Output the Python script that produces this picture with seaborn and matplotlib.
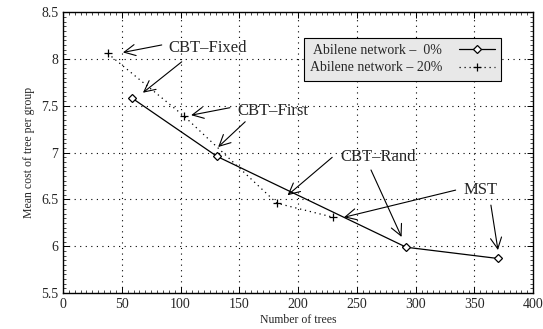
import pandas as pd
import matplotlib
matplotlib.use("Agg")
import matplotlib.pyplot as plt
import seaborn as sns
from matplotlib.ticker import MultipleLocator

# data
trees_0 = [59, 131, 292, 370]
cost_0 = [7.58, 6.96, 5.99, 5.87]
trees_20 = [38, 103, 182, 230]
cost_20 = [8.06, 7.39, 6.46, 6.31]

df = pd.concat([
    pd.DataFrame({"trees": trees_0, "cost": cost_0, "series": "Abilene network \u2013  0%"}),
    pd.DataFrame({"trees": trees_20, "cost": cost_20, "series": "Abilene network \u2013 20%"}),
])

# label text, label position, arrows (tail -> tip)
labels = ["CBT\u2013Fixed", "CBT\u2013First", "CBT\u2013Rand", "MST"]
label_pos = [(90, 8.12), (148, 7.45), (236, 6.95), (341, 6.60)]
arrows = [
    [((84, 8.15), (51, 8.07)), ((101, 7.97), (68, 7.64))],
    [((142, 7.48), (109, 7.40)), ((155, 7.33), (132, 7.06))],
    [((229, 6.95), (191, 6.545)), ((262, 6.815), (288, 6.10))],
    [((334, 6.60), (239, 6.31)), ((364, 6.44), (370, 5.96))],
]

sns.set_style("ticks")
plt.rcParams["font.family"] = ["Liberation Serif", "DejaVu Serif"]

fig = plt.figure(figsize=(5.43, 3.29), dpi=100)
ax = fig.add_axes([0.116, 0.109, 0.866, 0.854])

sns.lineplot(data=df, x="trees", y="cost", hue="series", style="series",
             palette=["black", "black"], dashes=[(None, None), (1, 3)],
             markers=["D", "P"], ax=ax, legend=False, sort=False)
lines = ax.get_lines()
lines[0].set(linewidth=0.9, marker="D", markersize=4.2, markerfacecolor="white",
             markeredgecolor="black", markeredgewidth=0.9, linestyle="-")
lines[1].set(linewidth=0.9, marker="+", markersize=6, markeredgecolor="black",
             markeredgewidth=0.9, linestyle=(0, (1, 3)))
lines[0].set_label("Abilene network \u2013  0%")
lines[1].set_label("Abilene network \u2013 20%")

for text, pos, arrs in zip(labels, label_pos, arrows):
    ax.text(pos[0], pos[1], text, fontsize=12, va="center", ha="left")
    for tail, tip in arrs:
        ax.annotate("", xy=tip, xytext=tail,
                    arrowprops=dict(arrowstyle="->,head_length=0.5,head_width=0.25",
                                    lw=0.8, color="black",
                                    mutation_scale=16, shrinkA=0, shrinkB=0))

ax.set_xlim(0, 400)
ax.set_ylim(5.5, 8.5)
ax.xaxis.set_major_locator(MultipleLocator(50))
ax.yaxis.set_major_locator(MultipleLocator(0.5))
ax.xaxis.set_minor_locator(MultipleLocator(5))
ax.yaxis.set_minor_locator(MultipleLocator(0.05))
ax.set_yticks([5.5, 6, 6.5, 7, 7.5, 8, 8.5])
ax.set_yticklabels(["5.5", "6", "6.5", "7", "7.5", "8", "8.5"])
ax.tick_params(which="both", direction="in", top=True, right=True, color="black")
ax.tick_params(which="major", length=4, width=0.7, labelsize=10)
ax.tick_params(which="minor", length=2, width=0.5)
ax.grid(True, which="major", color="black", linestyle=(0, (1, 4)), linewidth=0.8)
for s in ax.spines.values():
    s.set_color("black")
    s.set_linewidth(1.0)

ax.set_xlabel("Number of trees", fontsize=8.5, labelpad=2)
ax.set_ylabel("Mean cost of tree per group", fontsize=8.5, labelpad=4)

leg = ax.legend(loc="upper right", bbox_to_anchor=(0.932, 0.908), markerfirst=False,
                fontsize=10, fancybox=False, framealpha=1, handlelength=2.6,
                borderpad=0.45, labelspacing=0.3, borderaxespad=0, handletextpad=1.2)
leg.get_frame().set_facecolor("#e8e8e8")
leg.get_frame().set_edgecolor("black")
leg.get_frame().set_linewidth(0.8)

fig.savefig("out.png", dpi=100)
